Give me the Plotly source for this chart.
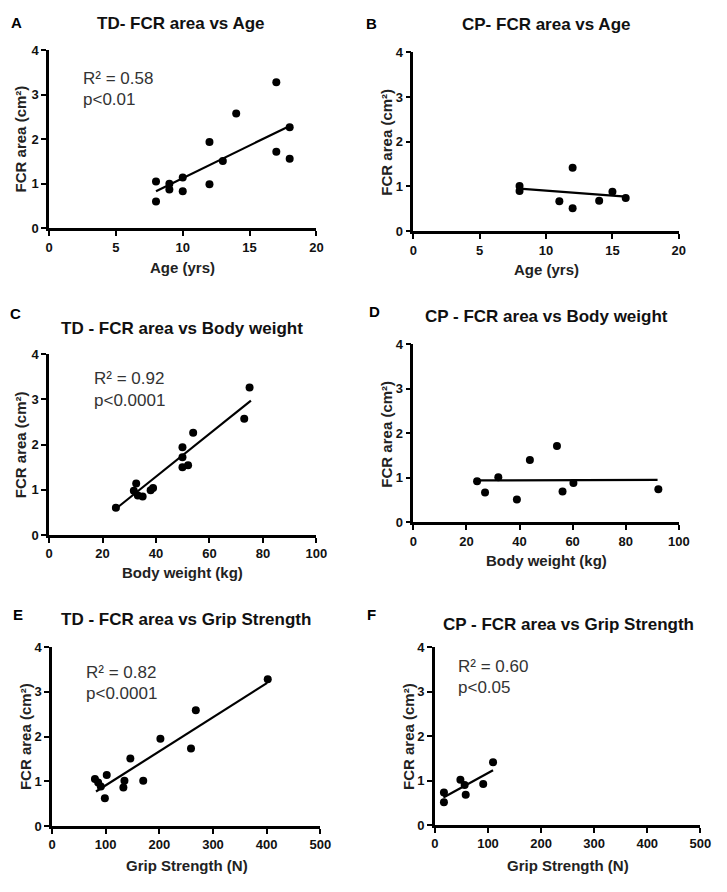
import plotly.graph_objects as go

# ---------------- DATA ----------------
a_age = [8, 8, 9, 9, 10, 10, 12, 12, 13, 14, 17, 17, 18, 18]
a_fcr = [0.60, 1.05, 1.00, 0.87, 1.14, 0.83, 1.94, 0.99, 1.51, 2.58, 3.28, 1.72, 2.27, 1.56]
a_fit_x = [8, 18]
a_fit_y = [0.83, 2.30]

b_age = [8, 8, 11, 12, 12, 14, 15, 16]
b_fcr = [1.01, 0.90, 0.67, 1.42, 0.51, 0.68, 0.88, 0.74]
b_fit_x = [8, 16]
b_fit_y = [0.95, 0.77]

c_bw = [25, 32.6, 31.7, 33.2, 35, 38, 38.9, 49.9, 49.9, 49.9, 52, 53.9, 73, 75]
c_fcr = [0.60, 1.14, 0.98, 0.87, 0.85, 0.99, 1.04, 1.94, 1.72, 1.50, 1.54, 2.26, 2.57, 3.26]
c_fit_x = [25, 75.5]
c_fit_y = [0.58, 2.97]

d_bw = [24, 27, 32, 39, 43.9, 54.1, 56.2, 60.3, 92.3]
d_fcr = [0.92, 0.67, 1.01, 0.51, 1.40, 1.71, 0.69, 0.88, 0.74]
d_fit_x = [23, 92]
d_fit_y = [0.94, 0.95]

e_grip = [80, 86, 91, 98.5, 102, 133, 135, 146, 170, 202, 259, 268, 402]
e_fcr = [1.05, 0.97, 0.88, 0.62, 1.14, 0.86, 1.01, 1.51, 1.01, 1.95, 1.73, 2.59, 3.28]
e_fit_x = [82, 401]
e_fit_y = [0.77, 3.20]

f_grip = [17, 17, 48, 56, 58, 91, 109.5]
f_fcr = [0.73, 0.51, 1.02, 0.90, 0.68, 0.92, 1.41]
f_fit_x = [16, 109.5]
f_fit_y = [0.62, 1.23]

letters = ["A", "B", "C", "D", "E", "F"]
titles = ["TD- FCR area vs Age", "CP- FCR area vs Age",
          "TD - FCR area vs Body weight", "CP - FCR area vs Body weight",
          "TD - FCR area vs Grip Strength", "CP - FCR area vs Grip Strength"]
xtitles = ["Age (yrs)", "Age (yrs)", "Body weight (kg)", "Body weight (kg)",
           "Grip Strength (N)", "Grip Strength (N)"]
ytitle = "FCR area (cm²)"
r2_text = ["R² = 0.58", None, "R² = 0.92", None, "R² = 0.82", "R² = 0.60"]
p_text = ["p<0.01", None, "p<0.0001", None, "p<0.0001", "p<0.05"]
x_ranges = [[0, 20], [0, 20], [0, 100], [0, 100], [0, 500], [0, 500]]
x_dticks = [5, 5, 20, 20, 100, 100]

panels = [
    (a_age, a_fcr, a_fit_x, a_fit_y),
    (b_age, b_fcr, b_fit_x, b_fit_y),
    (c_bw, c_fcr, c_fit_x, c_fit_y),
    (d_bw, d_fcr, d_fit_x, d_fit_y),
    (e_grip, e_fcr, e_fit_x, e_fit_y),
    (f_grip, f_fcr, f_fit_x, f_fit_y),
]

# ---------------- LAYOUT (pixels) ----------------
W, H = 727, 892
# plot area boxes: (x0, x1, ytop, ybottom)
boxes = [(46, 319, 44, 225), (418, 689, 46, 228),
         (46, 319, 353, 537), (418, 689, 343, 524),
         (49, 323, 651, 833), (440, 711, 651, 832)]
letter_pos = [(13, 16), (375, 17), (12, 312), (378, 310), (14, 618), (375, 618)]
title_pos = [(181, 17), (553, 18), (182, 327), (554, 315), (186, 623), (576, 628)]
xtitle_pos = [(182, 265), (554, 267), (182, 575), (554, 563), (187, 873), (576, 873)]
ytitle_pos = [(17, 134), (391, 137), (17, 445), (391, 434), (22, 742), (413, 742)]
r2_pos = [(79, 73), None, (90, 378), None, (82, 677), (462, 671)]
p_pos = [(79, 94), None, (90, 400), None, (82, 698), (462, 692)]


def px(x):
    return x / W


def py(y):
    return 1 - y / H


fig = go.Figure()
annotations = []
FONT = "Arial, Liberation Sans, sans-serif"

for i, (xs, ys, fx, fy) in enumerate(panels):
    n = i + 1
    xa = "x" if n == 1 else f"x{n}"
    ya = "y" if n == 1 else f"y{n}"
    fig.add_trace(go.Scatter(x=fx, y=fy, mode="lines", xaxis=xa, yaxis=ya,
                             line=dict(color="black", width=2.2),
                             showlegend=False, hoverinfo="skip"))
    fig.add_trace(go.Scatter(x=xs, y=ys, mode="markers", xaxis=xa, yaxis=ya,
                             marker=dict(color="black", size=8),
                             showlegend=False))
    x0, x1, yt, yb = boxes[i]
    axcommon = dict(showgrid=False, zeroline=False, showline=True,
                    linecolor="black", linewidth=2.5, ticks="outside",
                    ticklen=5, tickwidth=2, tickcolor="black",
                    tickfont=dict(family=FONT, size=13, color="#111", weight="bold"),
                    fixedrange=True)
    fig.layout[f"xaxis{'' if n == 1 else n}"] = dict(
        domain=[px(x0), px(x1)], anchor=ya, range=x_ranges[i],
        tickmode="linear", tick0=0, dtick=x_dticks[i], **axcommon)
    fig.layout[f"yaxis{'' if n == 1 else n}"] = dict(
        domain=[py(yb), py(yt)], anchor=xa, range=[0, 4],
        tickmode="linear", tick0=0, dtick=1, **axcommon)

    annotations.append(dict(text=letters[i], x=px(letter_pos[i][0]),
                            y=py(letter_pos[i][1]), xref="paper", yref="paper",
                            showarrow=False, xanchor="center", yanchor="middle",
                            font=dict(family=FONT, size=15, color="black",
                                      weight="bold")))
    annotations.append(dict(text=titles[i], x=px(title_pos[i][0]),
                            y=py(title_pos[i][1]), xref="paper", yref="paper",
                            showarrow=False, xanchor="center", yanchor="middle",
                            font=dict(family=FONT, size=17, color="#111",
                                      weight="bold")))
    annotations.append(dict(text=xtitles[i], x=px(xtitle_pos[i][0]),
                            y=py(xtitle_pos[i][1]), xref="paper", yref="paper",
                            showarrow=False, xanchor="center", yanchor="middle",
                            font=dict(family=FONT, size=15, color="#222",
                                      weight="bold")))
    annotations.append(dict(text=ytitle, x=px(ytitle_pos[i][0]),
                            y=py(ytitle_pos[i][1]), xref="paper", yref="paper",
                            showarrow=False, xanchor="center", yanchor="middle",
                            textangle=-90,
                            font=dict(family=FONT, size=15, color="#222",
                                      weight="bold")))
    if r2_text[i]:
        annotations.append(dict(text=r2_text[i], x=px(r2_pos[i][0]),
                                y=py(r2_pos[i][1]), xref="paper", yref="paper",
                                showarrow=False, xanchor="left", yanchor="middle",
                                font=dict(family=FONT, size=17, color="#333")))
        annotations.append(dict(text=p_text[i], x=px(p_pos[i][0]),
                                y=py(p_pos[i][1]), xref="paper", yref="paper",
                                showarrow=False, xanchor="left", yanchor="middle",
                                font=dict(family=FONT, size=17, color="#333")))

fig.update_layout(width=W, height=H, margin=dict(l=0, r=0, t=0, b=0),
                  paper_bgcolor="white", plot_bgcolor="white",
                  annotations=annotations, showlegend=False)

fig.write_html("out.html", config={"displayModeBar": False},
               post_script="document.body.style.margin='0';"
                           "document.body.style.overflow='hidden';")
